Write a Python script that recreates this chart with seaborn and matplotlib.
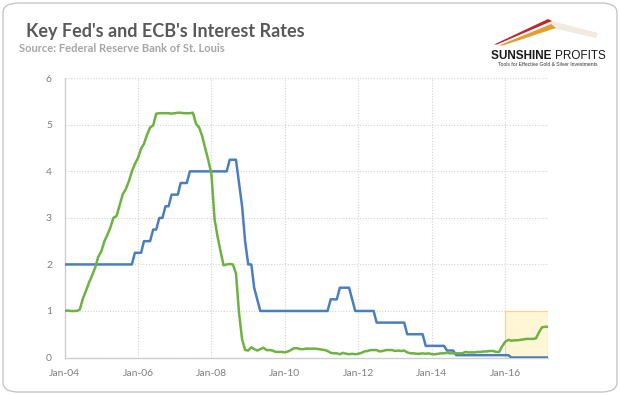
import pandas as pd
import matplotlib.pyplot as plt
import matplotlib.dates as mdates
from matplotlib.patches import FancyBboxPatch, Polygon, Rectangle
import seaborn as sns

# monthly observations, Jan 2004 .. Mar 2017
months = pd.date_range('2004-01-01', '2017-03-01', freq='MS')

fed_rate = [
    1.00, 1.01, 1.00, 1.00, 1.00, 1.03, 1.26, 1.43, 1.61, 1.76, 1.93, 2.16,  # 2004
    2.28, 2.50, 2.63, 2.79, 3.00, 3.04, 3.26, 3.50, 3.62, 3.78, 4.00, 4.16,  # 2005
    4.29, 4.49, 4.59, 4.79, 4.94, 4.99, 5.24, 5.25, 5.25, 5.25, 5.25, 5.24,  # 2006
    5.25, 5.26, 5.26, 5.25, 5.25, 5.25, 5.26, 5.02, 4.94, 4.76, 4.49, 4.24,  # 2007
    3.94, 2.98, 2.61, 2.28, 1.98, 2.00, 2.01, 2.00, 1.81, 0.97, 0.39, 0.16,  # 2008
    0.15, 0.22, 0.18, 0.15, 0.18, 0.21, 0.16, 0.16, 0.15, 0.12, 0.12, 0.12,  # 2009
    0.11, 0.13, 0.16, 0.20, 0.20, 0.18, 0.18, 0.19, 0.19, 0.19, 0.19, 0.18,  # 2010
    0.17, 0.16, 0.14, 0.10, 0.09, 0.09, 0.07, 0.10, 0.08, 0.07, 0.08, 0.07,  # 2011
    0.08, 0.10, 0.13, 0.14, 0.16, 0.16, 0.16, 0.13, 0.14, 0.16, 0.16, 0.16,  # 2012
    0.14, 0.15, 0.14, 0.15, 0.11, 0.09, 0.09, 0.08, 0.08, 0.09, 0.08, 0.09,  # 2013
    0.07, 0.07, 0.08, 0.09, 0.09, 0.10, 0.09, 0.09, 0.09, 0.09, 0.09, 0.12,  # 2014
    0.11, 0.11, 0.11, 0.12, 0.12, 0.13, 0.13, 0.14, 0.14, 0.12, 0.12, 0.24,  # 2015
    0.34, 0.38, 0.36, 0.37, 0.37, 0.38, 0.39, 0.40, 0.40, 0.40, 0.41, 0.54,  # 2016
    0.65, 0.66, 0.66,                                                        # 2017
]

ecb_rate = [
    2.00, 2.00, 2.00, 2.00, 2.00, 2.00, 2.00, 2.00, 2.00, 2.00, 2.00, 2.00,  # 2004
    2.00, 2.00, 2.00, 2.00, 2.00, 2.00, 2.00, 2.00, 2.00, 2.00, 2.00, 2.25,  # 2005
    2.25, 2.25, 2.50, 2.50, 2.50, 2.75, 2.75, 3.00, 3.00, 3.25, 3.25, 3.50,  # 2006
    3.50, 3.50, 3.75, 3.75, 3.75, 4.00, 4.00, 4.00, 4.00, 4.00, 4.00, 4.00,  # 2007
    4.00, 4.00, 4.00, 4.00, 4.00, 4.00, 4.25, 4.25, 4.25, 3.75, 3.25, 2.50,  # 2008
    2.00, 2.00, 1.50, 1.25, 1.00, 1.00, 1.00, 1.00, 1.00, 1.00, 1.00, 1.00,  # 2009
    1.00, 1.00, 1.00, 1.00, 1.00, 1.00, 1.00, 1.00, 1.00, 1.00, 1.00, 1.00,  # 2010
    1.00, 1.00, 1.00, 1.25, 1.25, 1.25, 1.50, 1.50, 1.50, 1.50, 1.25, 1.00,  # 2011
    1.00, 1.00, 1.00, 1.00, 1.00, 1.00, 0.75, 0.75, 0.75, 0.75, 0.75, 0.75,  # 2012
    0.75, 0.75, 0.75, 0.75, 0.50, 0.50, 0.50, 0.50, 0.50, 0.50, 0.25, 0.25,  # 2013
    0.25, 0.25, 0.25, 0.25, 0.25, 0.15, 0.15, 0.15, 0.05, 0.05, 0.05, 0.05,  # 2014
    0.05, 0.05, 0.05, 0.05, 0.05, 0.05, 0.05, 0.05, 0.05, 0.05, 0.05, 0.05,  # 2015
    0.05, 0.05, 0.00, 0.00, 0.00, 0.00, 0.00, 0.00, 0.00, 0.00, 0.00, 0.00,  # 2016
    0.00, 0.00, 0.00,                                                        # 2017
]

y_ticks = [0, 1, 2, 3, 4, 5, 6]
x_tick_years = [2004, 2006, 2008, 2010, 2012, 2014, 2016]
highlight_start = '2016-01-01'
highlight_top = 1.0

title = "Key Fed's and ECB's Interest Rates"
subtitle = "Source: Federal Reserve Bank of St. Louis"

GREEN = '#6cb33f'
BLUE = '#4a7ebf'
GRID = '#d4d4d4'
LABEL = '#7f7f7f'

sns.set_style('white')
plt.rcParams['font.family'] = ['Lato', 'DejaVu Sans']

W, H = 620, 395
fig = plt.figure(figsize=(W / 100, H / 100), dpi=100)


def fx(px):
    return px / W


def fy(py):
    return 1 - py / H


# rounded outer frame
fig.patches.append(FancyBboxPatch((fx(3), fy(392)), fx(614), 389 / H,
                                  boxstyle='round,pad=0,rounding_size=0.025',
                                  transform=fig.transFigure, facecolor='none',
                                  edgecolor='#c6c6c6', linewidth=1.0, zorder=-1))

ax = fig.add_axes([fx(64.5), fy(357.5), fx(548 - 64.5), (357.5 - 78.3) / H])
ax.set_facecolor('none')

df = pd.DataFrame({'date': months, 'fed': fed_rate, 'ecb': ecb_rate})

# highlighted area at the end
x0 = mdates.date2num(pd.Timestamp(highlight_start))
ax.add_patch(Rectangle((x0, 0), mdates.date2num(months[-1]) - x0, highlight_top,
                       facecolor='#fff6d6', edgecolor='#f3d88c',
                       linewidth=0.9, zorder=1))

sns.lineplot(data=df, x='date', y='ecb', ax=ax, color=BLUE, linewidth=1.8, zorder=3)
sns.lineplot(data=df, x='date', y='fed', ax=ax, color=GREEN, linewidth=1.8, zorder=4)

ax.set_xlim(months[0], months[-1])
ax.set_ylim(0, 6)
ax.set_yticks(y_ticks)
ax.set_xticks([pd.Timestamp(f'{y}-01-01') for y in x_tick_years])
ax.xaxis.set_major_formatter(mdates.DateFormatter('%b-%y'))
ax.set_xlabel('')
ax.set_ylabel('')

ax.grid(True, color=GRID, linestyle=(0, (1, 1.5)), linewidth=0.8, zorder=0)
for side in ['top', 'right']:
    ax.spines[side].set_visible(False)
for side in ['left', 'bottom']:
    ax.spines[side].set_color('#cfcfcf')
    ax.spines[side].set_linewidth(1.0)
ax.tick_params(axis='both', length=3, width=0.8, color='#cfcfcf',
               labelcolor=LABEL, labelsize=7.5, direction='out')
ax.tick_params(axis='x', pad=5)
ax.tick_params(axis='y', pad=6)

# titles
fig.text(fx(26), fy(37), title, fontsize=13, fontweight='bold', color='#595959',
         ha='left', va='baseline')
fig.text(fx(19), fy(52), subtitle, fontsize=8, fontweight='bold', color='#a6a6a6',
         ha='left', va='baseline')

# logo swoosh
fig.patches.append(Polygon([(fx(548), fy(20)), (fx(598), fy(33)), (fx(596), fy(38)), (fx(552), fy(28))],
                           closed=True, transform=fig.transFigure, facecolor='#e6dccb',
                           edgecolor='none', alpha=0.6, zorder=1))
fig.patches.append(Polygon([(fx(494), fy(44.5)), (fx(548), fy(19)), (fx(552), fy(21)), (fx(497), fy(44.5))],
                           closed=True, transform=fig.transFigure, facecolor='#c0272d',
                           edgecolor='none', zorder=2))
fig.patches.append(Polygon([(fx(499), fy(45.5)), (fx(551), fy(24)), (fx(556), fy(28)), (fx(503), fy(45.5))],
                           closed=True, transform=fig.transFigure, facecolor='#e0a030',
                           edgecolor='none', zorder=2))

# logo text: fit "SUNSHINE PROFITS" into 491..606 px
logo_font = ['Liberation Sans', 'DejaVu Sans']
renderer = fig.canvas.get_renderer()
t1 = fig.text(fx(491), fy(59), 'SUNSHINE ', fontsize=10, fontweight='bold', color='#1a1a1a',
              ha='left', va='baseline', family=logo_font)
t2 = fig.text(0, fy(59), 'PROFITS', fontsize=10, color='#1a1a1a',
              ha='left', va='baseline', family=logo_font)
w1 = t1.get_window_extent(renderer).width
w2 = t2.get_window_extent(renderer).width
size = 10 * 115 / (w1 + w2)
t1.set_fontsize(size)
t2.set_fontsize(size)
t2.set_x(fx(491 + w1 * size / 10))
fig.text(fx(548), fy(66.5), 'Tools for Effective Gold & Silver Investments', fontsize=3.6,
         color='#333333', ha='center', va='baseline', family=logo_font)

fig.savefig('out.png', dpi=100)
